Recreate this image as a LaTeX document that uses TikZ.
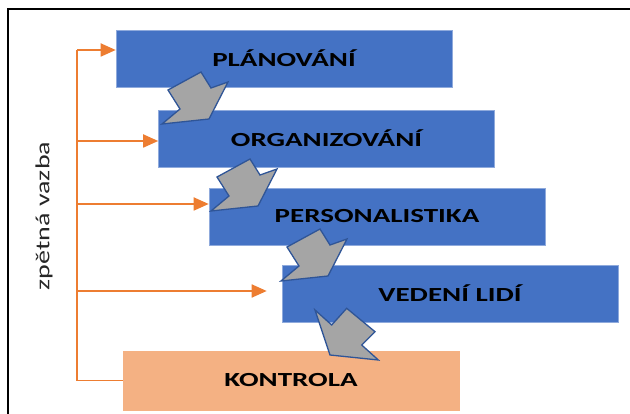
\documentclass[tikz,border=0pt]{standalone}
\usepackage{fontspec}
\setmainfont{Carlito}
\newfontfamily\phasefont[FakeStretch=1.45]{Carlito}
\newfontfamily\sidefont[FakeStretch=1.4]{Carlito}
\usetikzlibrary{arrows.meta}

\definecolor{phaseblue}{HTML}{4472C4}
\definecolor{phaseedge}{HTML}{8FAADC}
\definecolor{checkorange}{HTML}{F4B183}
\definecolor{fborange}{HTML}{ED7D31}
\definecolor{stepgray}{HTML}{A5A5A5}
\definecolor{stepedge}{HTML}{2F5597}

\tikzset{
  phase/.style={fill=phaseblue,draw=phaseedge,line width=0.6pt,minimum width=336pt,minimum height=57pt,
    inner sep=0pt,font=\phasefont\bfseries\fontsize{20}{24}\selectfont},
  checkbox/.style={phase,fill=checkorange,draw=checkorange,minimum height=59pt},
  fbline/.style={fborange,line width=1.8pt},
  fbarrow/.style={fbline,-{Triangle[length=15pt,width=13pt]}},
  nextstep/.style={fill=stepgray,draw=stepedge,line width=1.3pt,line join=miter}
}

\begin{document}
\begin{tikzpicture}[x=1pt,y=-1pt]
  \useasboundingbox (0,0) rectangle (630,414);
  \draw[line width=2.4pt] (8,416) -- (8,9) -- (632,9);

  % phases
  \node[phase] (plan) at (284,58.5) {PLÁNOVÁNÍ};
  \node[phase] (org) at (326.5,138.5) {ORGANIZOVÁNÍ};
  \node[phase] (pers) at (377,216.5) {PERSONALISTIKA};
  \node[phase] (ved) at (450,293.5) {VEDENÍ LIDÍ};
  \node[checkbox] (kontrola) at (291,380.5) {KONTROLA};

  % feedback
  \node[rotate=90,font=\sidefont\fontsize{20}{24}\selectfont,text=black!85] (fbtext) at (44,216) {zpětná vazba};
  \coordinate (fb1) at (77,50);
  \coordinate (fb2) at (77,141);
  \coordinate (fb3) at (77,204);
  \coordinate (fb4) at (77,291);
  \draw[fbline] (kontrola.west) -- (kontrola.west -| fb1) -- (fb1);
  \draw[fbarrow] (fb1) -- (fb1 -| plan.west);
  \draw[fbarrow] (fb2) -- (fb2 -| org.west);
  \draw[fbarrow] (fb3) -- (fb3 -| pers.west);
  \draw[fbarrow,shorten >=15pt] (fb4) -- (fb4 -| ved.west);

  % arrows between phases
  \filldraw[nextstep] (168,90) -- (201,72) -- (211,88) -- (228,82) -- (209,119) -- (162,124) -- (180,109) -- cycle;
  \filldraw[nextstep] (217,177) -- (250,159) -- (260,175) -- (277,169) -- (258,206) -- (211,211) -- (229,196) -- cycle;
  \filldraw[nextstep] (287,247) -- (320,229) -- (330,245) -- (347,239) -- (328,276) -- (281,281) -- (299,266) -- cycle;
  \filldraw[nextstep] (315,310) -- (331.7,325) -- (346.7,308.3) -- (375,331.7) -- (361.7,345) -- (378.3,360) -- (330,355) -- cycle;
\end{tikzpicture}
\end{document}
